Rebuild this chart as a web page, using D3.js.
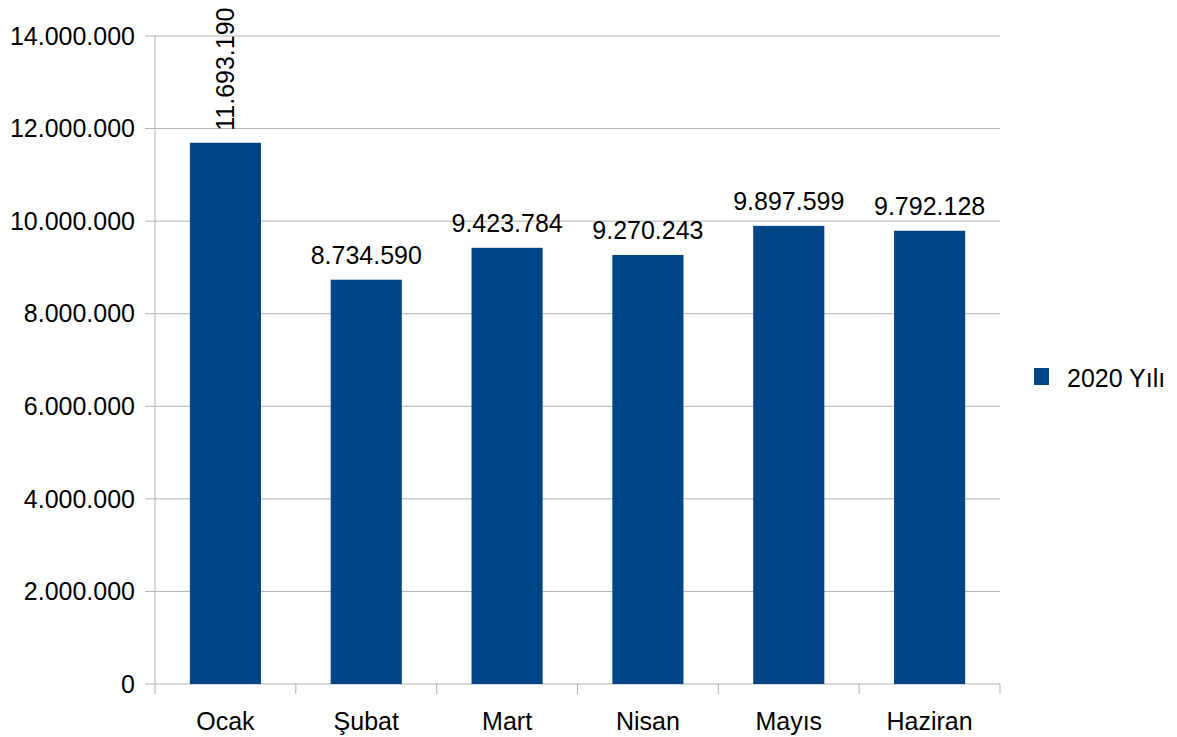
<!DOCTYPE html>
<html>
<head>
<meta charset="utf-8">
<script src="https://cdn.jsdelivr.net/npm/d3@7"></script>
<style>
  body { margin: 0; background: #fff; }
  text { font-family: "Liberation Sans", Arial, sans-serif; fill: #000; }
</style>
</head>
<body>
<svg id="chart" width="1177" height="737"></svg>
<script>
// data
var months = ["Ocak", "Şubat", "Mart", "Nisan", "Mayıs", "Haziran"];
var values = [11693190, 8734590, 9423784, 9270243, 9897599, 9792128];
var yTicks = [0, 2000000, 4000000, 6000000, 8000000, 10000000, 12000000, 14000000];
var seriesName = "2020 Yılı";

var margin = {top: 36, left: 155, right: 177, bottom: 53};
var width = 1177 - margin.left - margin.right;
var height = 737 - margin.top - margin.bottom;

// turkish style thousands
var fmt = d3.formatLocale({decimal: ",", thousands: ".", grouping: [3], currency: ["", ""]}).format(",d");

var svg = d3.select("#chart");
var chart = svg.append("g")
  .attr("transform", "translate(" + margin.left + "," + margin.top + ")");

var xScale = d3.scaleBand()
  .domain(months)
  .range([0, width])
  .paddingInner(0.495)
  .paddingOuter(0.2475);

var yScale = d3.scaleLinear()
  .domain([0, 14000000])
  .range([height, 0]);

// grid lines
chart.append("g")
  .selectAll("line")
  .data(yTicks)
  .enter()
  .append("line")
  .attr("x1", -10)
  .attr("x2", width)
  .attr("y1", function(d) { return yScale(d); })
  .attr("y2", function(d) { return yScale(d); })
  .attr("stroke", "#b3b3b3")
  .attr("stroke-width", 1);

// y axis line
chart.append("line")
  .attr("x1", 0).attr("x2", 0)
  .attr("y1", 0).attr("y2", height)
  .attr("stroke", "#b3b3b3");

// x axis tick marks at band boundaries
var bounds = months.map(function(m, i) { return i * width / months.length; }).concat([width]);
chart.append("g")
  .selectAll("line")
  .data(bounds)
  .enter()
  .append("line")
  .attr("x1", function(d) { return d; })
  .attr("x2", function(d) { return d; })
  .attr("y1", height)
  .attr("y2", height + 10)
  .attr("stroke", "#b3b3b3");

// y tick labels
chart.append("g")
  .selectAll("text")
  .data(yTicks)
  .enter()
  .append("text")
  .attr("x", -20)
  .attr("y", function(d) { return yScale(d); })
  .attr("dy", "0.35em")
  .attr("text-anchor", "end")
  .style("font-size", "25px")
  .text(function(d) { return fmt(d); });

// x labels
chart.append("g")
  .selectAll("text")
  .data(months)
  .enter()
  .append("text")
  .attr("x", function(d) { return xScale(d) + xScale.bandwidth() / 2; })
  .attr("y", height + 46)
  .attr("text-anchor", "middle")
  .style("font-size", "25px")
  .text(function(d) { return d; });

// bars
chart.append("g")
  .selectAll("rect")
  .data(values)
  .enter()
  .append("rect")
  .attr("x", function(d, i) { return xScale(months[i]); })
  .attr("y", function(d) { return yScale(d); })
  .attr("width", xScale.bandwidth())
  .attr("height", function(d) { return height - yScale(d); })
  .attr("fill", "#004586");

// value labels, the first one is rotated
chart.append("g")
  .selectAll("text")
  .data(values)
  .enter()
  .append("text")
  .style("font-size", "25px")
  .attr("transform", function(d, i) {
    var cx = xScale(months[i]) + xScale.bandwidth() / 2;
    if (i == 0) return "translate(" + (cx + 9) + "," + (yScale(d) - 12) + ") rotate(-90)";
    return "translate(" + cx + "," + (yScale(d) - 16) + ")";
  })
  .attr("text-anchor", function(d, i) { return i == 0 ? "start" : "middle"; })
  .text(function(d) { return fmt(d); });

// legend
var legend = svg.append("g").attr("transform", "translate(1034,368)");
legend.append("rect")
  .attr("width", 15)
  .attr("height", 17)
  .attr("fill", "#004586");
legend.append("text")
  .attr("x", 33)
  .attr("y", 19)
  .style("font-size", "25px")
  .text(seriesName);
</script>
</body>
</html>
